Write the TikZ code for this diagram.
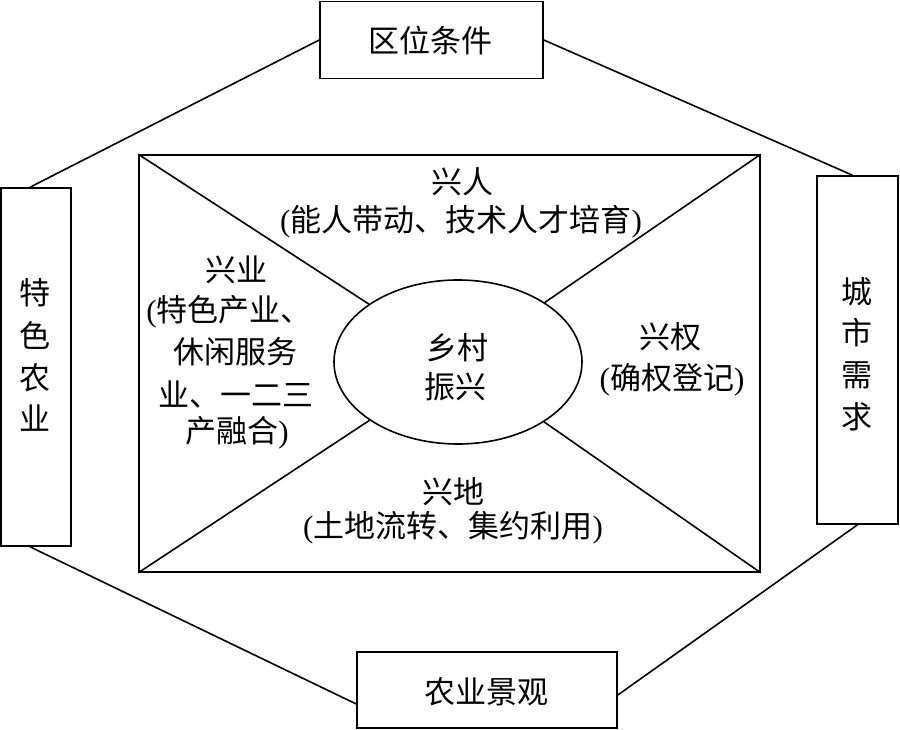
\documentclass[tikz,border=0pt]{standalone}
\usepackage{fontspec}
\setmainfont{Liberation Serif}
\newfontfamily\cjk{Noto Sans CJK SC}
\usetikzlibrary{shapes.geometric}
\tikzset{
  ln/.style={line width=1.6pt, black},
  boxnode/.style={draw, ln, inner sep=0pt, fill=white},
  txt/.style={inner sep=0pt, font=\fontsize{31}{36}\selectfont\cjk, anchor=center},
}
\begin{document}
\begin{tikzpicture}[x=1pt,y=-1pt]
\useasboundingbox (0,0) rectangle (900,730);
% outer boxes
\node[boxnode, minimum width=223pt, minimum height=77pt] (tb) at (431.5,40) {};
\node[boxnode, minimum width=70pt, minimum height=358pt] (lb) at (36,367) {};
\node[boxnode, minimum width=81pt, minimum height=348pt] (rb) at (857.5,350) {};
\node[boxnode, minimum width=260pt, minimum height=76pt] (bb) at (487,690) {};
% octagon connectors
\draw[ln] (tb.west) -- ([xshift=-6pt]lb.north);
\draw[ln] (tb.east) -- ([xshift=-5pt]rb.north);
\draw[ln] ([xshift=-6pt]lb.south) -- ([yshift=-14pt]bb.west);
\draw[ln] (rb.south) -- ([yshift=-5pt]bb.east);
% inner frame
\node[draw, ln, inner sep=0pt, minimum width=621pt, minimum height=417pt] (fr) at (449.5,363.5) {};
\node[draw, ln, ellipse, inner sep=0pt, minimum width=248pt, minimum height=164pt] (el) at (458,362) {};
\draw[ln] (fr.north west) -- (el);
\draw[ln] (fr.north east) -- (el);
\draw[ln] (fr.south west) -- (el);
\draw[ln] (fr.south east) -- (el);
% outer texts
\node[txt] (t1) at (430,41) {区位条件};
\node[txt] (t2) at (486,692) {农业景观};
\node[txt] (l1) at (35,293) {特};
\node[txt] (l2) at (35,335) {色};
\node[txt] (l3) at (35,378) {农};
\node[txt] (l4) at (35,418) {业};
\node[txt] (r1) at (857,292) {城};
\node[txt] (r2) at (857,333) {市};
\node[txt] (r3) at (857,375) {需};
\node[txt] (r4) at (857,417) {求};
% inner texts
\node[txt] (xr1) at (462,182) {兴人};
\node[txt] (xr2) at (461,222) {\rmfamily(\cjk 能人带动、技术人才培育\rmfamily)};
\node[txt] (xy1) at (236,270) {兴业};
\node[txt] (xy2) at (229,312) {\rmfamily(\cjk 特色产业、};
\node[txt] (xy3) at (235,352) {休闲服务};
\node[txt] (xy4) at (236,395) {业、一二三};
\node[txt] (xy5) at (237,433) {产融合\rmfamily)};
\node[txt] (c1) at (457,348) {乡村};
\node[txt] (c2) at (455,387) {振兴};
\node[txt] (xq1) at (670,337) {兴权};
\node[txt] (xq2) at (672,380) {\rmfamily(\cjk 确权登记\rmfamily)};
\node[txt] (xd1) at (453,492) {兴地};
\node[txt] (xd2) at (453,528) {\rmfamily(\cjk 土地流转、集约利用\rmfamily)};
\end{tikzpicture}
\end{document}
